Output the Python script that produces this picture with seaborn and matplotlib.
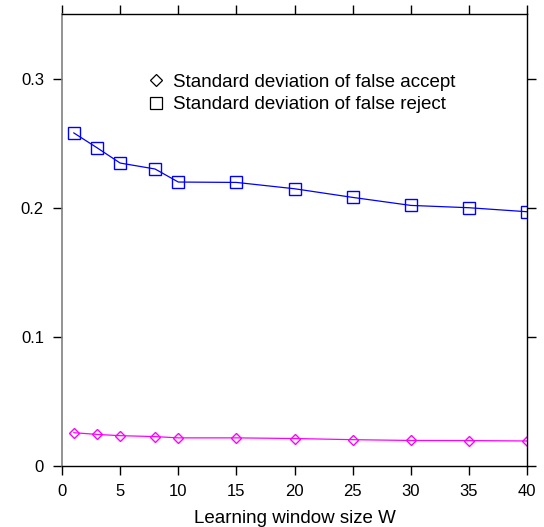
import pandas as pd
import seaborn as sns
import matplotlib.pyplot as plt
from matplotlib.lines import Line2D

#======================Data======================
window = [1, 3, 5, 8, 10, 15, 20, 25, 30, 35, 40]
sd_false_accept = [0.0258, 0.0245, 0.0235, 0.0228, 0.0218, 0.0218, 0.0213, 0.0204, 0.0198, 0.0197, 0.0194]
sd_false_reject = [0.258, 0.2465, 0.2346, 0.2300, 0.2199, 0.2196, 0.2147, 0.2080, 0.2018, 0.2000, 0.1969]
x_ticks = [0, 5, 10, 15, 20, 25, 30, 35, 40]
y_ticks = [0, 0.1, 0.2, 0.3]
y_tick_labels = ['0', '0.1', '0.2', '0.3']

df = pd.DataFrame({'W': window, 'accept': sd_false_accept, 'reject': sd_false_reject})

sns.set_theme(style="ticks")
plt.rcParams['font.family'] = ['Liberation Sans', 'DejaVu Sans']
plt.rcParams['text.color'] = 'black'

fig = plt.figure(figsize=(5.44, 5.27), dpi=100)
ax = fig.add_axes([0.114, 0.1157, 0.855, 0.9734 - 0.1157])

sns.lineplot(data=df, x='W', y='reject', ax=ax, color='#0000ff', lw=0.9,
             marker='s', markersize=8.6, markerfacecolor='none',
             markeredgecolor='#0000ff', markeredgewidth=1.0)
sns.lineplot(data=df, x='W', y='accept', ax=ax, color='#ff00ff', lw=0.9,
             marker='D', markersize=5.5, markerfacecolor='none',
             markeredgecolor='#ff00ff', markeredgewidth=1.0)

ax.set_xlim(0, 40)
ax.set_ylim(0, 0.35)
ax.set_xticks(x_ticks)
ax.set_yticks(y_ticks)
ax.set_yticklabels(y_tick_labels)
ax.set_xlabel('Learning window size W', fontsize=13.5, labelpad=8, color='black')
ax.set_ylabel('')
ax.tick_params(axis='both', which='both', direction='out', length=6.5, width=1.0,
               labelsize=12, pad=6.5, top=True, right=True, color='black', labelcolor='black')

for side in ['top', 'right', 'bottom']:
    ax.spines[side].set_color('black')
    ax.spines[side].set_linewidth(1.0)
ax.spines['left'].set_color('#808080')
ax.spines['left'].set_linewidth(1.2)

handles = [
    Line2D([], [], ls='none', marker='D', markersize=6, markerfacecolor='none',
           markeredgecolor='black', markeredgewidth=0.9),
    Line2D([], [], ls='none', marker='s', markersize=8, markerfacecolor='none',
           markeredgecolor='black', markeredgewidth=0.9),
]
ax.legend(handles, ['Standard deviation of false accept', 'Standard deviation of false reject'],
          loc='upper left', bbox_to_anchor=(0.167, 0.885), frameon=False, fontsize=13.5,
          handlelength=0.9, handletextpad=0.45, labelspacing=0.3, borderaxespad=0,
          labelcolor='black')

plt.savefig('out.png', dpi=100)
